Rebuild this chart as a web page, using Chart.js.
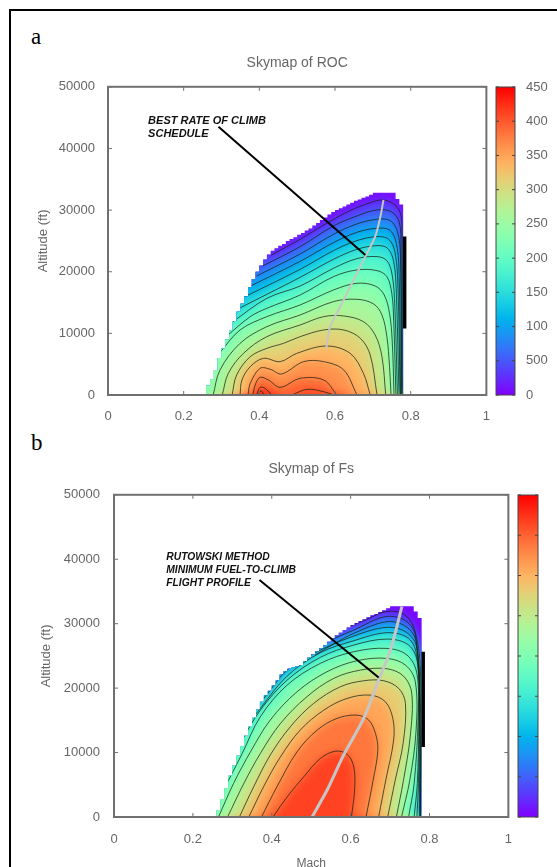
<!DOCTYPE html>
<html>
<head>
<meta charset="utf-8">
<script src="https://cdn.jsdelivr.net/npm/chart.js@4"></script>
<style>
html,body{margin:0;padding:0;background:#fff;overflow:hidden}
#page{position:relative;width:557px;height:867px;overflow:hidden}
#frame{position:absolute;left:9px;top:9px;width:700px;height:1000px;border:2px solid #000}
canvas{position:absolute;filter:blur(.5px)}
.tag{position:absolute;font:23px "Liberation Serif",serif;color:#000}
</style>
</head>
<body>
<div id="page">
  <div id="frame"></div>
  <div class="tag" style="left:31px;top:24px">a</div>
  <div class="tag" style="left:31px;top:430px">b</div>
  <canvas id="rocChart" width="504" height="430" style="left:0;top:0"></canvas>
  <canvas id="rocBar" width="67" height="430" style="left:490px;top:0"></canvas>
  <canvas id="fsChart" width="527" height="441" style="left:0;top:430px"></canvas>
  <canvas id="fsBar" width="43" height="437" style="left:512px;top:430px"></canvas>
</div>
<script>
// ---- axis labels
const machTicks=['0','0.2','0.4','0.6','0.8','1'];
const altTicks=['0','10000','20000','30000','40000','50000'];
const rocBarTicks=['0','500','100','150','200','250','300','350','400','450'];

// ---- stair edge of the flight envelope, altitude at each mach cell
const edgeMach=[.26,.27,.28,.29,.30,.31,.32,.33,.34,.35,.36,.37,.38,.39,.40,.41,.42,.43,.44,.45,.46,.47,.48,.49,.50,.51,.52,.53,.54,.55,.56,.57,.58,.59,.60,.61,.62,.63,.64,.65,.66,.67,.68,.69,.70,.71,.72,.73,.74,.75,.76,.77,.78];
const rocEdge=[1500,2500,4000,6000,7500,9000,10500,12000,13500,14800,16000,17500,18800,20000,21000,22000,22800,23400,23800,24200,24500,25000,25300,25600,26000,26300,26700,27000,27500,27900,28400,28800,29300,29700,30000,30300,30600,30900,31200,31500,31700,32000,32200,32500,32800,32800,32800,32800,32800,32800,31800,30900,30300];
const fsEdge=[1040,2800,4500,6400,8000,9500,11000,12600,14000,15400,16700,17900,18900,19600,20400,21200,22100,22600,23000,23200,23400,23600,24200,24700,25200,25700,26200,26700,27200,27700,28200,28600,29000,29400,29800,30100,30400,30700,31000,31300,31500,31800,32100,32400,32700,32700,32700,32700,32700,32700,31900,30900,30500];

// ---- ROC contours, [mach, altitude]
const rocLevels=[250,500,750,1000,1250,1500,1750,2000,2250,2500,2750,3000,3250,3500,3750,4000,4000,4250];
const rocContours=[
[[.431,22670],[.508,25265],[.578,27860],[.640,29920],[.684,31000],[.724,31650],[.755,31000],[.773,29485],[.777,26780],[.778,0]],
[[.409,20940],[.508,24075],[.596,27430],[.658,29050],[.711,30030],[.750,29700],[.770,27970],[.774,24075],[.776,0]],
[[.393,19315],[.508,22885],[.596,26075],[.658,27755],[.711,28510],[.746,28295],[.765,26510],[.773,22450],[.775,0]],
[[.377,17690],[.508,21695],[.596,24725],[.658,26400],[.711,27050],[.744,26780],[.761,24885],[.769,20290],[.773,0]],
[[.362,15960],[.508,20395],[.596,23425],[.658,25050],[.711,25700],[.742,25265],[.758,23265],[.766,18125],[.772,0]],
[[.347,14070],[.508,19100],[.596,22020],[.658,23640],[.711,24235],[.739,23805],[.755,21640],[.762,16500],[.769,0]],
[[.330,11900],[.420,15690],[.508,17690],[.596,20560],[.658,22130],[.711,22450],[.737,21800],[.751,19480],[.758,14340],[.765,0]],
[[.312,9470],[.376,12715],[.420,14070],[.508,16230],[.596,19205],[.658,20290],[.711,20180],[.737,19205],[.750,16500],[.755,12170],[.761,0]],
[[.294,6760],[.349,10550],[.420,12715],[.508,14610],[.596,17040],[.658,18125],[.706,17690],[.730,16230],[.744,13250],[.751,8925],[.756,0]],
[[.278,0],[.296,4060],[.349,8385],[.420,11090],[.508,12985],[.596,15150],[.658,15530],[.702,14770],[.724,12985],[.737,9470],[.744,4600],[.748,0]],
[[.302,0],[.318,3515],[.358,6760],[.420,9470],[.508,11360],[.570,12715],[.623,12820],[.675,11900],[.706,9740],[.724,6220],[.734,0]],
[[.328,0],[.340,3245],[.376,6220],[.420,7570],[.464,8385],[.508,9470],[.570,10550],[.623,10550],[.667,9195],[.693,6490],[.711,0]],
[[.349,0],[.354,2430],[.376,4600],[.411,5950],[.455,5410],[.499,6760],[.578,7950],[.640,6760],[.675,3515],[.693,0]],
[[.370,0],[.376,1890],[.402,4330],[.429,4165],[.459,3410],[.517,5410],[.570,5410],[.623,4060],[.658,0]],
[[.383,0],[.389,1625],[.402,2870],[.424,2430],[.455,1245],[.508,2705],[.570,2430],[.605,0]],
[[.393,0],[.402,1245],[.415,1080],[.433,0]],
[[.486,0],[.526,920],[.570,540],[.596,0]],
[[.398,0],[.404,700],[.413,0]]
];
const rocSchedule=[[.728,31650],[.720,28945],[.706,25700],[.680,22450],[.649,18665],[.614,14340],[.587,11090],[.577,7570]];
const rocPointer=[[.292,43500],[.680,22720]];
const rocWall=[[.784,25700],[.784,10800]];
const rocNote=['BEST RATE OF CLIMB','SCHEDULE'];
const rocNoteAt=[[.106,44470],[.106,42360]];

// ---- Fs contours, level as a fraction of the colour bar
const fsLevels=[.04,.11,.18,.25,.32,.39,.46,.53,.60,.67,.74,.81,.88];
const fsContours=[
[[.591,29430],[.641,30670],[.688,31865],[.734,31500],[.761,29275],[.777,22800],[.777,0]],
[[.553,27565],[.608,29015],[.688,31090],[.739,30465],[.764,28240],[.777,17620],[.777,0]],
[[.510,25130],[.557,26840],[.608,28500],[.692,30310],[.741,29530],[.766,27200],[.776,15030],[.776,0]],
[[.380,18400],[.439,22800],[.510,25495],[.608,28085],[.692,29430],[.743,28600],[.768,26165],[.775,15030],[.774,0]],
[[.354,15550],[.439,21865],[.523,25495],[.608,27360],[.692,28600],[.747,27720],[.768,24870],[.774,15030],[.772,5190],[.768,0]],
[[.322,11660],[.371,16585],[.439,21245],[.523,24770],[.608,26685],[.692,27615],[.747,26685],[.770,23835],[.773,15030],[.769,5190],[.761,0]],
[[.282,4670],[.325,9850],[.371,15550],[.439,20470],[.523,23835],[.608,25650],[.692,26165],[.743,25130],[.768,22280],[.771,15030],[.761,5190],[.747,0]],
[[.265,0],[.303,5190],[.346,10110],[.396,15030],[.464,19430],[.540,22540],[.616,24250],[.692,24610],[.739,23575],[.764,20990],[.766,13475],[.750,5700],[.729,0]],
[[.288,0],[.329,5190],[.371,9850],[.422,14510],[.489,18655],[.557,21505],[.625,22800],[.692,23005],[.734,21865],[.755,19175],[.751,12440],[.734,5700],[.716,0]],
[[.318,0],[.354,4670],[.396,9590],[.447,13995],[.506,17620],[.574,20210],[.633,21140],[.684,21140],[.722,19950],[.739,17620],[.733,11400],[.713,5700],[.694,0]],
[[.342,0],[.379,4670],[.422,9330],[.472,13475],[.532,16585],[.591,18400],[.650,18915],[.688,17880],[.707,15290],[.709,11920],[.689,5700],[.671,0]],
[[.374,0],[.413,4670],[.464,10110],[.515,13475],[.565,15290],[.616,15810],[.646,15030],[.663,12960],[.669,10370],[.657,5700],[.639,0]],
[[.403,0],[.439,3115],[.481,6225],[.523,9070],[.561,10210],[.591,9745],[.608,7780],[.610,4150],[.602,0]]
];
const fsProfile=[[.502,0],[.540,4150],[.582,9590],[.633,15290],[.671,21245],[.701,25910],[.730,32640]];
const fsPointer=[[.369,36780],[.671,21660]];
const fsWall=[[.784,25640],[.784,10880]];
const fsNote=['RUTOWSKI METHOD','MINIMUM FUEL-TO-CLIMB','FLIGHT PROFILE'];
const fsNoteAt=[[.1326,40250],[.1326,38230],[.1326,36360]];

const FONT='"Liberation Sans",Arial,sans-serif';
const GREY='#666666';

// gnuplot rainbow palette
function rainbow(v){
  var r=Math.min(1,Math.abs(2*v-.5));
  var g=Math.sin(Math.PI*v);
  var b=Math.cos(Math.PI*v/2);
  return `rgb(${Math.round(r*255)},${Math.round(g*255)},${Math.round(b*255)})`;
}

function xy(list){
  return list.map(function(p){return {x:p[0],y:p[1]};});
}

function stairs(machs,alts){
  var pts=[[machs[0],0]];
  for (var i=0;i<machs.length;i++){
    pts.push([machs[i],alts[i]]);
    if (i<machs.length-1) pts.push([machs[i+1],alts[i]]);
  }
  pts.push([machs[machs.length-1],0]);
  return pts;
}

// frame and small inward ticks, the way gnuplot has them
const boxTicks={
  id:'boxTicks',
  afterDraw(chart,args,opts){
    var c=chart.ctx,a=chart.chartArea,sx=chart.scales.x,sy=chart.scales.y;
    c.save();
    c.strokeStyle=opts.color;
    c.lineWidth=opts.width;
    c.strokeRect(a.left,a.top,a.width,a.height);
    c.lineWidth=1;
    if (opts.xTicks!==false){
      sx.ticks.forEach(function(t){
        var p=sx.getPixelForValue(t.value);
        c.beginPath();c.moveTo(p,a.bottom);c.lineTo(p,a.bottom-opts.len);
        c.moveTo(p,a.top);c.lineTo(p,a.top+opts.len);c.stroke();
      });
    }
    sy.ticks.forEach(function(t){
      var p=sy.getPixelForValue(t.value);
      c.beginPath();c.moveTo(a.left,p);c.lineTo(a.left+opts.len,p);
      c.moveTo(a.right,p);c.lineTo(a.right-opts.len,p);c.stroke();
    });
    c.restore();
  }
};

const notes={
  id:'notes',
  afterDatasetsDraw(chart,args,opts){
    var c=chart.ctx;
    c.save();
    c.font=`italic bold ${opts.size}px ${FONT}`;
    c.fillStyle='#111';
    c.textBaseline='middle';
    opts.lines.forEach(function(txt,i){
      c.fillText(txt,chart.scales.x.getPixelForValue(opts.at[i][0]),chart.scales.y.getPixelForValue(opts.at[i][1]));
    });
    c.restore();
  }
};

// soften the colour bands between contours, bands and contours stay inside the stair edge
const softBands={
  id:'softBands',
  afterDatasetDraw(chart,args,opts){
    var c=chart.ctx;
    if (args.index===0){
      c.save();
      c.beginPath();
      opts.edge.forEach(function(p,i){
        var x=chart.scales.x.getPixelForValue(p[0]),y=chart.scales.y.getPixelForValue(p[1]);
        if (i===0) c.moveTo(x,y); else c.lineTo(x,y);
      });
      c.closePath();
      c.clip();
      c.filter=`blur(${opts.blur}px)`;
    }
    if (args.index===opts.lastFill) c.filter='none';
    if (args.index===opts.lastLine) c.restore();
  }
};

// region above a contour; runs past the stair edge and the axis, the clip trims it
function region(line){
  var first=line[0],last=line[line.length-1];
  var pts=[[first[0]-.15,-3000]];
  if (first[1]>0) pts.push([first[0]-.15,first[1]]);
  pts=pts.concat(line);
  pts.push([last[0]+.03,last[1]]);
  pts.push([last[0]+.03,-3000]);
  return pts;
}

function skymap(id,cfg){
  var edge=stairs(edgeMach,cfg.edge);
  var sets=[{data:xy(edge),fill:'shape',backgroundColor:rainbow(cfg.base),borderWidth:0,showLine:true}];
  // nested regions, outside first
  cfg.levels.forEach(function(lev,i){
    sets.push({data:xy(region(cfg.contours[i])),fill:'shape',backgroundColor:rainbow(lev+cfg.half),borderWidth:0,showLine:true});
  });
  var lastFill=sets.length-1;
  cfg.contours.forEach(function(line){
    sets.push({data:xy(line),borderColor:'rgba(20,30,20,.72)',borderWidth:1,tension:.35,showLine:true});
  });
  var lastLine=sets.length-1;
  sets.push({data:xy(cfg.path),borderColor:'#c6c6c6',borderWidth:cfg.pathWidth,tension:.3,showLine:true});
  sets.push({data:xy(cfg.pointer),borderColor:'#000',borderWidth:2,showLine:true});
  sets.push({data:xy(cfg.wall),borderColor:'#000',borderWidth:3.5,showLine:true});
  sets.forEach(function(s,i){s.order=sets.length-i;});

  return new Chart(document.getElementById(id),{
    type:'scatter',
    data:{datasets:sets},
    plugins:[boxTicks,notes,softBands],
    options:{
      responsive:false,
      animation:false,
      layout:{padding:{right:cfg.padRight}},
      elements:{point:{radius:0}},
      scales:{
        x:{
          min:0,max:1,
          grid:{display:false,drawTicks:false},
          border:{display:false},
          ticks:{stepSize:.2,padding:cfg.xPad,color:GREY,font:{family:FONT,size:13},maxRotation:0,
            callback:function(v,i){return machTicks[i];}},
          title:{display:cfg.xTitle!=null,text:cfg.xTitle,color:GREY,font:{family:FONT,size:12},padding:{top:0,bottom:0}},
          afterFit:function(s){s.height=cfg.xHeight;}
        },
        y:{
          min:0,max:50000,
          grid:{display:false,drawTicks:false},
          border:{display:false},
          ticks:{stepSize:10000,padding:cfg.yPad,color:GREY,font:{family:FONT,size:13},
            callback:function(v,i){return altTicks[i];}},
          title:{display:true,text:'Altitude (ft)',color:GREY,font:{family:FONT,size:13},padding:{top:cfg.yTitleLeft,bottom:0}},
          afterFit:function(s){s.width=cfg.yWidth;}
        }
      },
      plugins:{
        legend:{display:false},
        tooltip:{enabled:false},
        title:{display:true,text:cfg.title,fullSize:false,color:GREY,font:{family:FONT,size:14,weight:'normal'},lineHeight:1.2,padding:cfg.titlePad},
        boxTicks:{color:'#707070',width:2,len:4},
        notes:{lines:cfg.note,at:cfg.noteAt,size:cfg.noteSize},
        softBands:{edge:edge,lastFill:lastFill,lastLine:lastLine,blur:4}
      }
    }
  });
}

function colourBar(id,cfg){
  return new Chart(document.getElementById(id),{
    type:'bar',
    data:{labels:['scale'],datasets:[{
      data:[[0,cfg.top]],
      barPercentage:1,categoryPercentage:1,borderWidth:0,
      backgroundColor:function(ctx){
        var a=ctx.chart.chartArea;
        if (!a) return '#888';
        var g=ctx.chart.ctx.createLinearGradient(0,a.bottom,0,a.top);
        for (var s=0;s<=20;s++){g.addColorStop(s/20,rainbow(s/20));}
        return g;
      }
    }]},
    plugins:[boxTicks],
    options:{
      responsive:false,
      animation:false,
      layout:{padding:cfg.pad},
      scales:{
        x:{display:false},
        y:{
          position:'right',min:0,max:cfg.top,
          grid:{display:false,drawTicks:false},
          border:{display:false},
          ticks:{display:cfg.labels!=null,stepSize:cfg.step,padding:11,color:GREY,font:{family:FONT,size:13},
            callback:function(v,i){return cfg.labels?cfg.labels[i]:'';}},
          afterFit:function(s){s.width=cfg.width;}
        }
      },
      plugins:{
        legend:{display:false},
        tooltip:{enabled:false},
        boxTicks:{color:'#444',width:1,len:3,xTicks:false}
      }
    }
  });
}

skymap('rocChart',{
  edge:rocEdge,levels:rocLevels.map(function(v){return v/4500;}),contours:rocContours,base:.02,half:.028,
  path:rocSchedule,pathWidth:2,pointer:rocPointer,wall:rocWall,
  note:rocNote,noteAt:rocNoteAt,noteSize:11,title:'Skymap of ROC',
  titlePad:{top:55,bottom:15},xHeight:35,yWidth:108,padRight:6,xPad:14,yPad:13,yTitleLeft:36
});
skymap('fsChart',{
  edge:fsEdge,levels:fsLevels,contours:fsContours,base:.01,half:.035,
  path:fsProfile,pathWidth:3,pointer:fsPointer,wall:fsWall,
  note:fsNote,noteAt:fsNoteAt,noteSize:10.3,title:'Skymap of Fs',xTitle:'Mach',
  titlePad:{top:31,bottom:17},xHeight:54,yWidth:114,padRight:6,xPad:15,yPad:14,yTitleLeft:39
});
colourBar('rocBar',{top:4500,step:500,labels:rocBarTicks,pad:{left:6,top:87,bottom:35},width:42});
colourBar('fsBar',{top:8,step:1,labels:null,pad:{left:6,top:65,bottom:50},width:17});
</script>
</body>
</html>
